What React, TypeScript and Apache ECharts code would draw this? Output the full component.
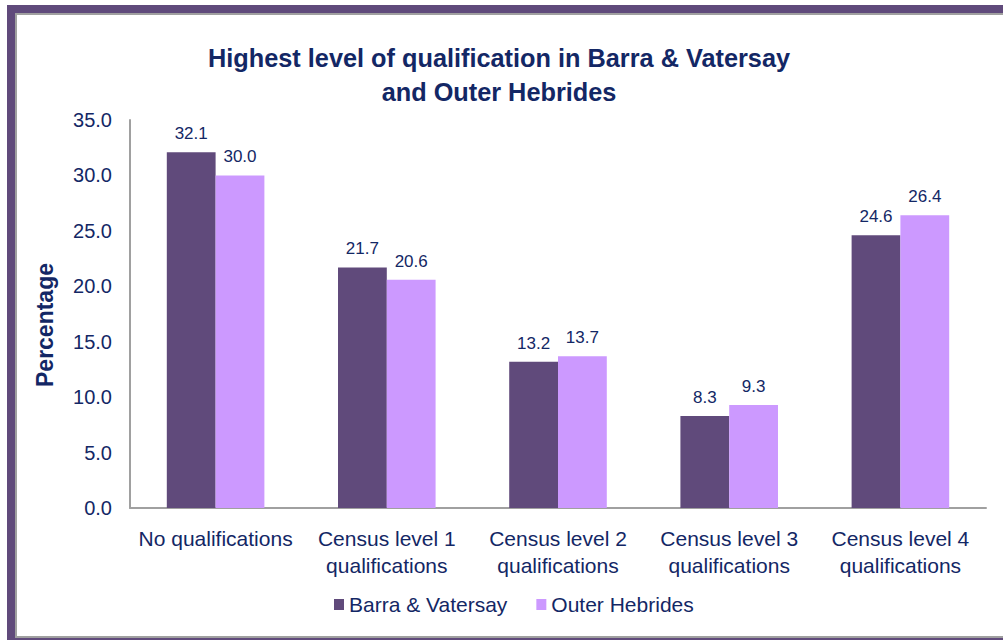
import React, { useEffect, useRef } from "react";
import * as echarts from "echarts";

const categories = [
  "No qualifications",
  "Census level 1\nqualifications",
  "Census level 2\nqualifications",
  "Census level 3\nqualifications",
  "Census level 4\nqualifications",
];
const barraValues = [32.1, 21.7, 13.2, 8.3, 24.6];
const outerValues = [30.0, 20.6, 13.7, 9.3, 26.4];
const seriesNames = ["Barra & Vatersay", "Outer Hebrides"];
const titleLines = ["Highest level of qualification in Barra & Vatersay", "and Outer Hebrides"];
const yAxisName = "Percentage";

const NAVY = "#132765";
const FONT = "'Liberation Sans', Arial, sans-serif";

export default function App() {
  const ref = useRef<HTMLDivElement>(null);
  useEffect(() => {
    if (!ref.current) return;
    const chart = echarts.init(ref.current, undefined, { renderer: "svg" });
    const labelCfg = {
      show: true,
      position: "top" as const,
      distance: 10,
      color: NAVY,
      fontSize: 17,
      fontFamily: FONT,
      formatter: (p: any) => Number(p.value).toFixed(1),
    };
    chart.setOption({
      animation: false,
      backgroundColor: "#ffffff",
      graphic: [
        { type: "rect", z: -10, shape: { x: 7, y: 5, width: 996, height: 635 }, style: { fill: "#604A7B" }, silent: true },
        { type: "rect", z: -9, shape: { x: 16, y: 14, width: 1000, height: 623 }, style: { fill: "#ffffff", stroke: "#A0A0A0", lineWidth: 2 }, silent: true },
      ],
      title: {
        text: titleLines.join("\n"),
        left: 494,
        top: 36,
        textAlign: "center",
        textStyle: { color: NAVY, fontSize: 25.3, fontWeight: "bold", fontFamily: FONT, lineHeight: 34 },
      },
      legend: {
        data: seriesNames,
        left: 334,
        top: 594,
        itemWidth: 10,
        itemHeight: 11,
        itemGap: 29,
        icon: "rect",
        textStyle: { color: NAVY, fontSize: 21, fontFamily: FONT },
        padding: 0,
      },
      grid: { left: 130, right: 17, top: 120, bottom: 132 },
      xAxis: {
        type: "category",
        data: categories,
        axisLine: { lineStyle: { color: "#A0A0A0", width: 2 } },
        axisTick: { show: false },
        axisLabel: { color: NAVY, fontSize: 21, fontFamily: FONT, lineHeight: 27, margin: 17, interval: 0 },
      },
      yAxis: {
        type: "value",
        min: 0,
        max: 35,
        interval: 5,
        name: yAxisName,
        nameLocation: "middle",
        nameGap: 74,
        nameTextStyle: { color: NAVY, fontSize: 23, fontWeight: "bold", fontFamily: FONT, padding: [0, 22, 0, 0] },
        axisLine: { show: true, lineStyle: { color: "#A0A0A0", width: 2 } },
        axisTick: { show: false },
        splitLine: { show: false },
        axisLabel: { color: NAVY, fontSize: 20, fontFamily: FONT, margin: 18, formatter: (v: number) => v.toFixed(1) },
      },
      series: [
        { name: seriesNames[0], type: "bar", data: barraValues, itemStyle: { color: "#604A7B" }, barGap: "0%", barCategoryGap: "43%", label: labelCfg },
        { name: seriesNames[1], type: "bar", data: outerValues, itemStyle: { color: "#CC99FF" }, barGap: "0%", barCategoryGap: "43%", label: labelCfg },
      ],
    });
    return () => chart.dispose();
  }, []);
  return <div ref={ref} style={{ position: "fixed", left: 0, top: 0, width: 1003, height: 640 }} />;
}
